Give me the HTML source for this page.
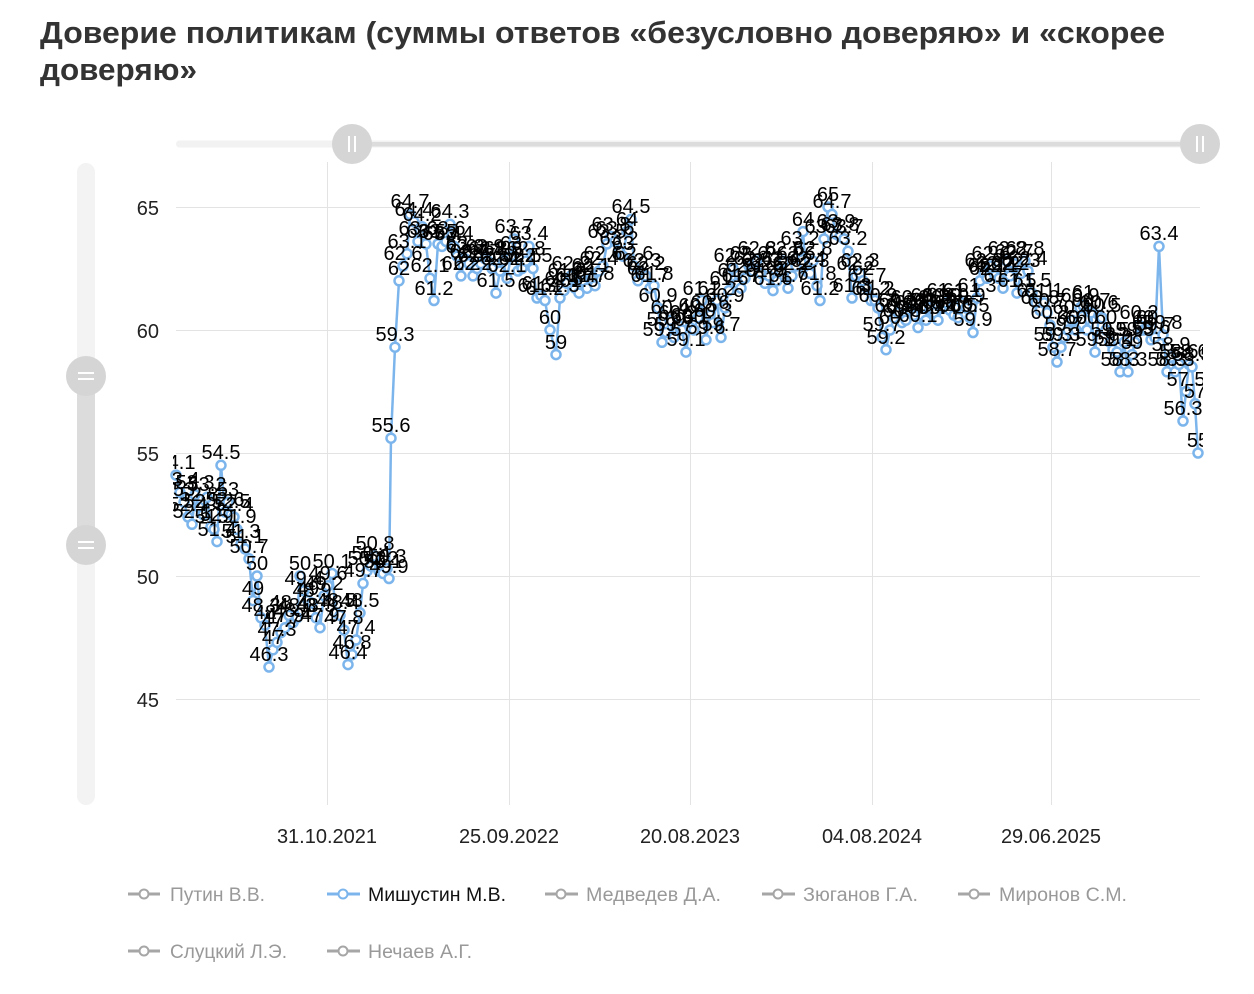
<!DOCTYPE html>
<html><head><meta charset="utf-8"><style>
html,body{margin:0;padding:0;background:#fff;width:1254px;height:994px;overflow:hidden}
svg{display:block}
</style></head><body>
<svg width="1254" height="994" viewBox="0 0 1254 994" xmlns="http://www.w3.org/2000/svg" font-family="'Liberation Sans','Noto Sans CJK SC',sans-serif">
<defs>
<marker id="m" markerWidth="16" markerHeight="16" refX="8" refY="8" markerUnits="userSpaceOnUse"><circle cx="8" cy="8" r="4.5" fill="#fff" stroke="#7cb5ec" stroke-width="2.5"/></marker>
<clipPath id="lc"><rect x="173" y="150" width="1030" height="660"/></clipPath>
</defs>
<rect width="1254" height="994" fill="#fff"/>
<text x="40" y="43" font-size="31" font-weight="bold" fill="#333" textLength="1125" lengthAdjust="spacingAndGlyphs">Доверие политикам (суммы ответов «безусловно доверяю» и «скорее</text>
<text x="40" y="80" font-size="31" font-weight="bold" fill="#333" textLength="157" lengthAdjust="spacingAndGlyphs">доверяю»</text>

<!-- top navigator -->
<rect x="176" y="140.5" width="1024" height="7" rx="3.5" fill="#f2f2f2"/>
<rect x="352" y="142" width="848" height="4.5" fill="#dcdcdc"/>
<circle cx="352" cy="144" r="20" fill="#d5d5d5"/>
<line x1="349" y1="136" x2="349" y2="152" stroke="#fff" stroke-width="2"/>
<line x1="355" y1="136" x2="355" y2="152" stroke="#fff" stroke-width="2"/>
<circle cx="1200" cy="144" r="20" fill="#d5d5d5"/>
<line x1="1197" y1="136" x2="1197" y2="152" stroke="#fff" stroke-width="2"/>
<line x1="1203" y1="136" x2="1203" y2="152" stroke="#fff" stroke-width="2"/>

<!-- left navigator -->
<rect x="77" y="163" width="18" height="642" rx="9" fill="#f3f3f3"/>
<rect x="77" y="376" width="18" height="169" fill="#dcdcdc"/>
<circle cx="86" cy="376" r="20" fill="#d5d5d5"/>
<line x1="78" y1="373" x2="94" y2="373" stroke="#fff" stroke-width="2"/>
<line x1="78" y1="379" x2="94" y2="379" stroke="#fff" stroke-width="2"/>
<circle cx="86" cy="545" r="20" fill="#d5d5d5"/>
<line x1="78" y1="542" x2="94" y2="542" stroke="#fff" stroke-width="2"/>
<line x1="78" y1="548" x2="94" y2="548" stroke="#fff" stroke-width="2"/>

<!-- grid -->
<g stroke="#e3e3e3" stroke-width="1">
<line x1="176" y1="207.5" x2="1200" y2="207.5"/>
<line x1="176" y1="330.5" x2="1200" y2="330.5"/>
<line x1="176" y1="453.5" x2="1200" y2="453.5"/>
<line x1="176" y1="576.5" x2="1200" y2="576.5"/>
<line x1="176" y1="699.5" x2="1200" y2="699.5"/>
<line x1="327.5" y1="162" x2="327.5" y2="805"/>
<line x1="509.5" y1="162" x2="509.5" y2="805"/>
<line x1="690.5" y1="162" x2="690.5" y2="805"/>
<line x1="872.5" y1="162" x2="872.5" y2="805"/>
<line x1="1051.5" y1="162" x2="1051.5" y2="805"/>
</g>
<g font-size="20" fill="#222" text-anchor="end">
<text x="159" y="215">65</text>
<text x="159" y="338">60</text>
<text x="159" y="461">55</text>
<text x="159" y="584">50</text>
<text x="159" y="707">45</text>
</g>
<g font-size="20" fill="#222" text-anchor="middle">
<text x="327" y="843">31.10.2021</text>
<text x="509" y="843">25.09.2022</text>
<text x="690" y="843">20.08.2023</text>
<text x="872" y="843">04.08.2024</text>
<text x="1051" y="843">29.06.2025</text>
</g>

<!-- series -->
<polyline fill="none" stroke="#7cb5ec" stroke-width="2.5" stroke-linejoin="round" marker-start="url(#m)" marker-mid="url(#m)" marker-end="url(#m)" points="176,475.1 180,492.4 184,502.2 188,517 192,524.3 195,494.8 199,507.1 203,514.5 207,497.3 211,526.8 214,529.3 217,541.6 221,465.3 225,512 228,502.2 231,514.5 234,517 237,529.3 241,544 245,548.9 249,558.8 253,600.6 257,576 261,617.8 265,625.2 269,667 273,649.8 277,642.4 281,632.6 285,627.7 289,615.4 293,622.7 297,617.8 300,576 304,590.8 308,600.6 312,603.1 316,617.8 320,627.7 324,595.7 328,585.8 332,573.5 336,612.9 340,615.4 344,630.1 348,664.6 352,654.7 356,640 360,612.9 363,583.4 367,571.1 371,566.2 375,556.3 379,571.1 383,573.5 387,568.6 389,578.5 391,438.2 395,347.2 399,280.8 403,266 407,253.7 410,214.4 414,221.8 418,241.4 422,226.7 426,243.9 430,278.3 434,300.5 438,243.9 442,246.4 446,241.4 450,224.2 454,246.4 457,256.2 461,275.9 465,258.7 469,263.6 473,275.9 477,268.5 481,263.6 485,258.7 488,261.1 492,268.5 496,293.1 500,271 503,261.1 507,278.3 511,256.2 514,239 518,271 522,268.5 526,261.1 529,246.4 533,268.5 537,298 541,295.6 545,300.5 550,330 556,354.6 560,298 564,290.6 567,283.3 571,275.9 575,288.2 579,293.1 583,280.8 587,288.2 591,278.3 595,285.7 599,271 603,266 607,243.9 611,236.5 615,241.4 619,251.3 623,256.2 627,231.6 631,219.3 634,266 638,280.8 642,273.4 646,275.9 650,288.2 654,285.7 658,307.9 662,342.3 666,332.5 670,320.2 674,337.4 678,325.1 682,330 686,352.1 690,327.5 694,330 698,317.7 702,300.5 706,339.8 710,315.2 713,322.6 717,300.5 721,337.4 725,307.9 729,290.6 733,268.5 737,283.3 741,288.2 745,278.3 749,266 753,271 757,261.1 761,273.4 765,283.3 769,275.9 773,290.6 777,280.8 781,271 784,261.1 788,288.2 792,275.9 796,266 800,251.3 803,231.6 806,271 810,273.4 813,261.1 817,285.7 820,300.5 824,239 828,207 832,214.4 836,234.1 840,236.5 844,239 848,251.3 852,298 856,275.9 860,273.4 863,280.8 867,288.2 871,300.5 875,300.5 878,307.9 882,337.4 886,349.7 890,330 894,317.7 898,312.8 902,322.6 906,320.2 910,310.3 914,315.2 918,327.5 922,315.2 926,320.2 930,307.9 934,312.8 938,320.2 942,307.9 946,302.9 950,310.3 954,315.2 958,317.7 962,302.9 966,307.9 970,317.7 973,332.5 977,298 980,280.8 984,273.4 987,278.3 991,266 995,275.9 999,278.3 1003,288.2 1007,261.1 1010,275.9 1014,263.6 1017,293.1 1021,273.4 1025,261.1 1028,271 1032,293.1 1036,302.9 1040,310.3 1044,302.9 1047,312.8 1050,325.1 1053,347.2 1057,362 1061,347.2 1064,337.4 1068,330 1072,320.2 1076,330 1080,307.9 1083,305.4 1087,330 1091,312.8 1095,352.1 1099,315.2 1102,317.7 1106,330 1110,342.3 1113,349.7 1117,352.1 1120,371.8 1124,342.3 1128,371.8 1132,354.6 1135,342.3 1139,325.1 1143,330 1147,330 1151,339.8 1155,337.4 1159,246.4 1163,334.9 1167,371.8 1171,357.1 1175,371.8 1179,364.4 1183,421 1186,391.5 1189,364.4 1192,366.9 1195,403.8 1198,453"/>

<!-- data labels -->
<g clip-path="url(#lc)" font-size="20" fill="#000" text-anchor="middle">
<text x="176" y="469">54.1</text><text x="180" y="486">53.4</text><text x="184" y="496">53</text><text x="188" y="511">52.4</text><text x="192" y="518">52.1</text><text x="195" y="489">53.3</text><text x="199" y="501">52.8</text><text x="203" y="508">52.5</text><text x="207" y="491">53.2</text><text x="211" y="521">52</text><text x="214" y="523">51.9</text><text x="217" y="536">51.4</text><text x="221" y="459">54.5</text><text x="225" y="506">52.6</text><text x="228" y="496">53</text><text x="231" y="508">52.5</text><text x="234" y="511">52.4</text><text x="237" y="523">51.9</text><text x="241" y="538">51.3</text><text x="245" y="543">51.1</text><text x="249" y="553">50.7</text><text x="253" y="595">49</text><text x="257" y="570">50</text><text x="261" y="612">48.3</text><text x="265" y="619">48</text><text x="269" y="661">46.3</text><text x="273" y="644">47</text><text x="277" y="636">47.3</text><text x="281" y="627">47.7</text><text x="285" y="622">47.9</text><text x="289" y="609">48.4</text><text x="293" y="617">48.1</text><text x="297" y="612">48.3</text><text x="300" y="570">50</text><text x="304" y="585">49.4</text><text x="308" y="595">49</text><text x="312" y="597">48.9</text><text x="316" y="612">48.3</text><text x="320" y="622">47.9</text><text x="324" y="590">49.2</text><text x="328" y="580">49.6</text><text x="332" y="568">50.1</text><text x="336" y="607">48.5</text><text x="340" y="609">48.4</text><text x="344" y="624">47.8</text><text x="348" y="659">46.4</text><text x="352" y="649">46.8</text><text x="356" y="634">47.4</text><text x="360" y="607">48.5</text><text x="363" y="577">49.7</text><text x="367" y="565">50.2</text><text x="371" y="560">50.4</text><text x="375" y="550">50.8</text><text x="379" y="565">50.2</text><text x="383" y="568">50.1</text><text x="387" y="563">50.3</text><text x="389" y="573">49.9</text><text x="391" y="432">55.6</text><text x="395" y="341">59.3</text><text x="399" y="275">62</text><text x="403" y="260">62.6</text><text x="407" y="248">63.1</text><text x="410" y="208">64.7</text><text x="414" y="216">64.4</text><text x="418" y="235">63.6</text><text x="422" y="221">64.2</text><text x="426" y="238">63.5</text><text x="430" y="272">62.1</text><text x="434" y="295">61.2</text><text x="438" y="238">63.5</text><text x="442" y="240">63.4</text><text x="446" y="235">63.6</text><text x="450" y="218">64.3</text><text x="454" y="240">63.4</text><text x="457" y="250">63</text><text x="461" y="270">62.2</text><text x="465" y="253">62.9</text><text x="469" y="258">62.7</text><text x="473" y="270">62.2</text><text x="477" y="262">62.5</text><text x="481" y="258">62.7</text><text x="485" y="253">62.9</text><text x="488" y="255">62.8</text><text x="492" y="262">62.5</text><text x="496" y="287">61.5</text><text x="500" y="265">62.4</text><text x="503" y="255">62.8</text><text x="507" y="272">62.1</text><text x="511" y="250">63</text><text x="514" y="233">63.7</text><text x="518" y="265">62.4</text><text x="522" y="262">62.5</text><text x="526" y="255">62.8</text><text x="529" y="240">63.4</text><text x="533" y="262">62.5</text><text x="537" y="292">61.3</text><text x="541" y="290">61.4</text><text x="545" y="295">61.2</text><text x="550" y="324">60</text><text x="556" y="349">59</text><text x="560" y="292">61.3</text><text x="564" y="285">61.6</text><text x="567" y="277">61.9</text><text x="571" y="270">62.2</text><text x="575" y="282">61.7</text><text x="579" y="287">61.5</text><text x="583" y="275">62</text><text x="587" y="282">61.7</text><text x="591" y="272">62.1</text><text x="595" y="280">61.8</text><text x="599" y="265">62.4</text><text x="603" y="260">62.6</text><text x="607" y="238">63.5</text><text x="611" y="231">63.8</text><text x="615" y="235">63.6</text><text x="619" y="245">63.2</text><text x="623" y="250">63</text><text x="627" y="226">64</text><text x="631" y="213">64.5</text><text x="634" y="260">62.6</text><text x="638" y="275">62</text><text x="642" y="267">62.3</text><text x="646" y="270">62.2</text><text x="650" y="282">61.7</text><text x="654" y="280">61.8</text><text x="658" y="302">60.9</text><text x="662" y="336">59.5</text><text x="666" y="326">59.9</text><text x="670" y="314">60.4</text><text x="674" y="331">59.7</text><text x="678" y="319">60.2</text><text x="682" y="324">60</text><text x="686" y="346">59.1</text><text x="690" y="322">60.1</text><text x="694" y="324">60</text><text x="698" y="312">60.5</text><text x="702" y="295">61.2</text><text x="706" y="334">59.6</text><text x="710" y="309">60.6</text><text x="713" y="317">60.3</text><text x="717" y="295">61.2</text><text x="721" y="331">59.7</text><text x="725" y="302">60.9</text><text x="729" y="285">61.6</text><text x="733" y="262">62.5</text><text x="737" y="277">61.9</text><text x="741" y="282">61.7</text><text x="745" y="272">62.1</text><text x="749" y="260">62.6</text><text x="753" y="265">62.4</text><text x="757" y="255">62.8</text><text x="761" y="267">62.3</text><text x="765" y="277">61.9</text><text x="769" y="270">62.2</text><text x="773" y="285">61.6</text><text x="777" y="275">62</text><text x="781" y="265">62.4</text><text x="784" y="255">62.8</text><text x="788" y="282">61.7</text><text x="792" y="270">62.2</text><text x="796" y="260">62.6</text><text x="800" y="245">63.2</text><text x="803" y="226">64</text><text x="806" y="265">62.4</text><text x="810" y="267">62.3</text><text x="813" y="255">62.8</text><text x="817" y="280">61.8</text><text x="820" y="295">61.2</text><text x="824" y="233">63.7</text><text x="828" y="201">65</text><text x="832" y="208">64.7</text><text x="836" y="228">63.9</text><text x="840" y="231">63.8</text><text x="844" y="233">63.7</text><text x="848" y="245">63.2</text><text x="852" y="292">61.3</text><text x="856" y="270">62.2</text><text x="860" y="267">62.3</text><text x="863" y="275">62</text><text x="867" y="282">61.7</text><text x="871" y="295">61.2</text><text x="875" y="295">61.2</text><text x="878" y="302">60.9</text><text x="882" y="331">59.7</text><text x="886" y="344">59.2</text><text x="890" y="324">60</text><text x="894" y="312">60.5</text><text x="898" y="307">60.7</text><text x="902" y="317">60.3</text><text x="906" y="314">60.4</text><text x="910" y="304">60.8</text><text x="914" y="309">60.6</text><text x="918" y="322">60.1</text><text x="922" y="309">60.6</text><text x="926" y="314">60.4</text><text x="930" y="302">60.9</text><text x="934" y="307">60.7</text><text x="938" y="314">60.4</text><text x="942" y="302">60.9</text><text x="946" y="297">61.1</text><text x="950" y="304">60.8</text><text x="954" y="309">60.6</text><text x="958" y="312">60.5</text><text x="962" y="297">61.1</text><text x="966" y="302">60.9</text><text x="970" y="312">60.5</text><text x="973" y="326">59.9</text><text x="977" y="292">61.3</text><text x="980" y="275">62</text><text x="984" y="267">62.3</text><text x="987" y="272">62.1</text><text x="991" y="260">62.6</text><text x="995" y="270">62.2</text><text x="999" y="272">62.1</text><text x="1003" y="282">61.7</text><text x="1007" y="255">62.8</text><text x="1010" y="270">62.2</text><text x="1014" y="258">62.7</text><text x="1017" y="287">61.5</text><text x="1021" y="267">62.3</text><text x="1025" y="255">62.8</text><text x="1028" y="265">62.4</text><text x="1032" y="287">61.5</text><text x="1036" y="297">61.1</text><text x="1040" y="304">60.8</text><text x="1044" y="297">61.1</text><text x="1047" y="307">60.7</text><text x="1050" y="319">60.2</text><text x="1053" y="341">59.3</text><text x="1057" y="356">58.7</text><text x="1061" y="341">59.3</text><text x="1064" y="331">59.7</text><text x="1068" y="324">60</text><text x="1072" y="314">60.4</text><text x="1076" y="324">60</text><text x="1080" y="302">60.9</text><text x="1083" y="299">61</text><text x="1087" y="324">60</text><text x="1091" y="307">60.7</text><text x="1095" y="346">59.1</text><text x="1099" y="309">60.6</text><text x="1102" y="312">60.5</text><text x="1106" y="324">60</text><text x="1110" y="336">59.5</text><text x="1113" y="344">59.2</text><text x="1117" y="346">59.1</text><text x="1120" y="366">58.3</text><text x="1124" y="336">59.5</text><text x="1128" y="366">58.3</text><text x="1132" y="349">59</text><text x="1135" y="336">59.5</text><text x="1139" y="319">60.2</text><text x="1143" y="324">60</text><text x="1147" y="324">60</text><text x="1151" y="334">59.6</text><text x="1155" y="331">59.7</text><text x="1159" y="240">63.4</text><text x="1163" y="329">59.8</text><text x="1167" y="366">58.3</text><text x="1171" y="351">58.9</text><text x="1175" y="366">58.3</text><text x="1179" y="358">58.6</text><text x="1183" y="415">56.3</text><text x="1186" y="386">57.5</text><text x="1189" y="358">58.6</text><text x="1192" y="361">58.5</text><text x="1195" y="398">57</text><text x="1198" y="447">55</text>
</g>

<!-- legend -->
<g stroke-width="3" fill="#fff">
<line x1="128" y1="894" x2="160" y2="894" stroke="#a6a6a6"/><circle cx="144" cy="894" r="4.5" stroke="#a6a6a6" stroke-width="2"/>
<line x1="327" y1="894" x2="360" y2="894" stroke="#7cb5ec"/><circle cx="343" cy="894" r="4.5" stroke="#7cb5ec" stroke-width="2"/>
<line x1="545" y1="894" x2="578" y2="894" stroke="#a6a6a6"/><circle cx="561" cy="894" r="4.5" stroke="#a6a6a6" stroke-width="2"/>
<line x1="762" y1="894" x2="795" y2="894" stroke="#a6a6a6"/><circle cx="778" cy="894" r="4.5" stroke="#a6a6a6" stroke-width="2"/>
<line x1="958" y1="894" x2="990" y2="894" stroke="#a6a6a6"/><circle cx="974" cy="894" r="4.5" stroke="#a6a6a6" stroke-width="2"/>
<line x1="128" y1="951" x2="160" y2="951" stroke="#a6a6a6"/><circle cx="144" cy="951" r="4.5" stroke="#a6a6a6" stroke-width="2"/>
<line x1="327" y1="951" x2="360" y2="951" stroke="#a6a6a6"/><circle cx="343" cy="951" r="4.5" stroke="#a6a6a6" stroke-width="2"/>
</g>
<g font-size="19" fill="#999">
<text x="170" y="901" textLength="95" lengthAdjust="spacingAndGlyphs">Путин В.В.</text>
<text x="368" y="901" textLength="138" lengthAdjust="spacingAndGlyphs" fill="#111">Мишустин М.В.</text>
<text x="586" y="901" textLength="135" lengthAdjust="spacingAndGlyphs">Медведев Д.А.</text>
<text x="803" y="901" textLength="115" lengthAdjust="spacingAndGlyphs">Зюганов Г.А.</text>
<text x="999" y="901" textLength="128" lengthAdjust="spacingAndGlyphs">Миронов С.М.</text>
<text x="170" y="958" textLength="117" lengthAdjust="spacingAndGlyphs">Слуцкий Л.Э.</text>
<text x="368" y="958" textLength="104" lengthAdjust="spacingAndGlyphs">Нечаев А.Г.</text>
</g>
</svg>
</body></html>
